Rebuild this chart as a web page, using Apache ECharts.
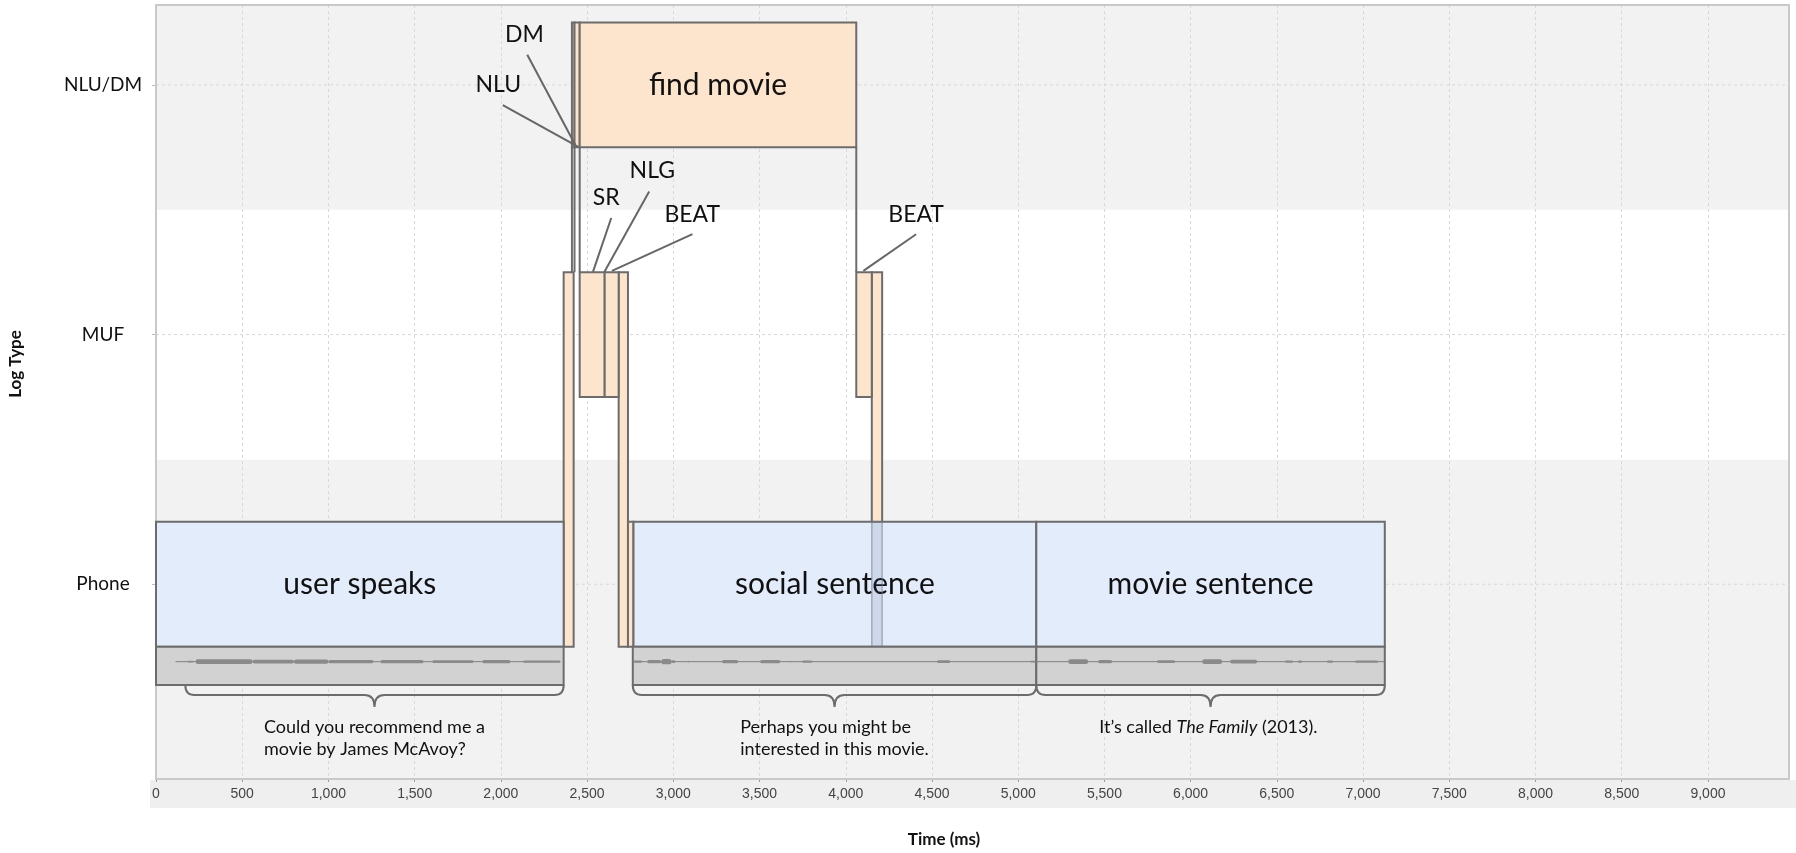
<!DOCTYPE html>
<html>
<head>
<meta charset="utf-8">
<title>Log timeline</title>
<script src="https://cdn.jsdelivr.net/npm/echarts@6.0.0/dist/echarts.min.js"></script>
<style>
  html, body { margin: 0; padding: 0; background: #fff; }
  #chart { width: 1796px; height: 853px; }
</style>
</head>
<body>
<div id="chart"></div>
<script>
// y rows, bottom to top
const rowNames = ['Phone', 'MUF', 'NLU/DM'];

// log events: [label, start ms, end ms, lowest row, highest row]
const logSpans = [
  ['', 2364, 2422, 0, 1],
  ['', 2683, 2737, 0, 1],
  ['', 2737, 2769, 0, 0],
  ['', 4151, 4211, 0, 1],
  ['SR', 2457, 2602, 1, 1],
  ['NLG', 2602, 2683, 1, 1],
  ['BEAT', 4061, 4151, 1, 1],
  ['NLU', 2412, 2427, 2, 2],
  ['DM', 2427, 2457, 2, 2],
  ['find movie', 2457, 4061, 2, 2]
];

// phone utterances: [label, start ms, end ms]
const phoneSpans = [
  ['user speaks', 0, 2364],
  ['social sentence', 2769, 5105],
  ['movie sentence', 5105, 7126]
];

// audio strips under the phone row: [start ms, end ms]
const audioSpans = [[0, 2364], [2765, 5105], [5105, 7126]];
const audioLines = [[113, 2345], [2765, 5105], [5105, 7126]];
// speech bursts in the waveform: [start ms, end ms, relative amplitude]
const audioBursts = [
  [182, 218, 0.3], [229, 560, 0.9], [560, 800, 0.7], [800, 1000, 0.8], [1000, 1261, 0.6],
  [1302, 1551, 0.6], [1603, 1841, 0.5], [1893, 2055, 0.6], [2130, 2345, 0.4],
  [2768, 2820, 0.4], [2849, 2930, 0.6], [2930, 2990, 1.0], [2990, 3012, 0.5], [3085, 3092, 0.3],
  [3283, 3376, 0.6], [3504, 3620, 0.6], [3676, 3682, 0.3], [3748, 3806, 0.4], [4530, 4606, 0.5],
  [5070, 5100, 0.3],
  [5290, 5406, 0.9], [5464, 5545, 0.6], [5806, 5910, 0.5], [6067, 6183, 0.9], [6229, 6386, 0.7],
  [6548, 6594, 0.4], [6623, 6646, 0.4], [6791, 6826, 0.4], [6954, 7087, 0.4]
];

// braces + transcripts
const braceSpans = [[170, 2364], [2765, 5105], [5105, 7126]];
const braceCaptions = [
  'Could you recommend me a\nmovie by James McAvoy?',
  'Perhaps you might be\ninterested in this movie.',
  'It\u2019s called {i|The Family} (2013).'
];

// vertical links between rows: [time ms, from row, to row]
const connectors = [[2412, 2, 1], [2427, 2, 1], [2457, 2, 1], [4061, 2, 1]];

// callouts: [label, label ms, label row, line start ms, line start row, line end ms, line end row]
const callouts = [
  ['DM', 2136, 2.201, 2153, 2.121, 2431, 1.760],
  ['NLU', 1985, 2.001, 2011, 1.919, 2449, 1.752],
  ['SR', 2611, 1.550, 2640, 1.467, 2534, 1.251],
  ['NLG', 2878, 1.656, 2860, 1.573, 2600, 1.251],
  ['BEAT', 3110, 1.482, 3111, 1.402, 2644, 1.255],
  ['BEAT', 4408, 1.482, 4408, 1.402, 4102, 1.255]
];

const X_MAX = 9470;
const Y_MIN = -0.78, Y_MAX = 2.32;
const BOX_HALF = 0.25;
const AUDIO_BOTTOM = -0.404;
const AUDIO_MID = -0.31;

const PEACH = '#fde5cd';
const BLUE = '#e3ecfa';
const EDGE = '#6c6c6c';
const FONT = 'Lato';

const measureCtx = document.createElement('canvas').getContext('2d');
function textWidth(str, font) {
  measureCtx.font = font;
  return measureCtx.measureText(str).width;
}

function spanRect(api, t0, t1, lo, hi) {
  const p0 = api.coord([t0, hi + BOX_HALF]);
  const p1 = api.coord([t1, lo - BOX_HALF]);
  return { x: p0[0], y: p0[1], width: p1[0] - p0[0], height: p1[1] - p0[1] };
}

// tall bars seen through the phone boxes
const overlaps = [];
logSpans.forEach(s => {
  if (s[3] !== 0 || s[4] === 0) return;
  phoneSpans.forEach(p => {
    const a = Math.max(s[1], p[1]), b = Math.min(s[2], p[2]);
    if (b > a) overlaps.push([a, b]);
  });
});

const chart = echarts.init(document.getElementById('chart'));

const option = {
  backgroundColor: '#ffffff',
  animation: false,
  grid: {
    left: 156, right: 7, top: 5, bottom: 74,
    show: true, borderColor: '#c9c9c9', borderWidth: 2, z: 1
  },
  xAxis: {
    type: 'value', min: 0, max: X_MAX, interval: 500,
    axisLine: { onZero: false, lineStyle: { color: '#9a9a9a', width: 2 } },
    axisTick: { length: 3, lineStyle: { color: '#9a9a9a' } },
    axisLabel: {
      formatter: v => v.toLocaleString('en-US'),
      showMaxLabel: false, margin: 8,
      fontSize: 14, fontFamily: 'Liberation Sans', color: '#444'
    },
    splitLine: { lineStyle: { type: [3, 3], color: '#d8d8d8' } }
  },
  yAxis: {
    type: 'value', min: Y_MIN, max: Y_MAX,
    axisLine: { show: false },
    axisTick: { show: true, customValues: rowNames.map((_, i) => i), length: 4, lineStyle: { color: '#bdbdbd' } },
    axisLabel: {
      customValues: rowNames.map((_, i) => i),
      formatter: v => rowNames[Math.round(v)] || '',
      margin: 53, align: 'center',
      fontSize: 19, fontFamily: FONT, color: '#111'
    },
    splitLine: { show: false }
  },
  graphic: [
    { type: 'rect', z: -5, shape: { x: 150, y: 780, width: 1646, height: 28 }, style: { fill: '#efefef' } },
    { type: 'text', x: 944, y: 840, style: { text: 'Time (ms)', align: 'center', verticalAlign: 'middle', fontSize: 17, fontWeight: 'bold', fontFamily: FONT, fill: '#111' } },
    { type: 'text', x: 16, y: 364, rotation: Math.PI / 2, style: { text: 'Log Type', align: 'center', verticalAlign: 'middle', fontSize: 17, fontWeight: 'bold', fontFamily: FONT, fill: '#111' } }
  ],
  series: [
    {
      // alternating row bands and dashed row lines
      type: 'custom', name: 'rows', z: -1, silent: true,
      data: rowNames.map((_, i) => [0, i]),
      renderItem: (params, api) => {
        const row = api.value(1);
        const cs = params.coordSys;
        const last = rowNames.length - 1;
        const top = api.coord([0, row === last ? Y_MAX : row + 0.5])[1];
        const bottom = api.coord([0, row === 0 ? Y_MIN : row - 0.5])[1];
        const mid = api.coord([0, row])[1];
        return {
          type: 'group', children: [
            { type: 'rect', shape: { x: cs.x, y: top, width: cs.width, height: bottom - top }, style: { fill: row % 2 === 0 ? '#f2f2f2' : '#ffffff' } },
            { type: 'line', z2: 5, shape: { x1: cs.x, y1: mid, x2: cs.x + cs.width, y2: mid }, style: { stroke: '#d8d8d8', lineWidth: 1, lineDash: [3, 3] } }
          ]
        };
      }
    },
    {
      type: 'custom', name: 'links', z: 2, silent: true,
      data: connectors.map(c => [c[0], c[1], c[2]]),
      renderItem: (params, api) => {
        const a = api.coord([api.value(0), api.value(1) - BOX_HALF]);
        const b = api.coord([api.value(0), api.value(2) + BOX_HALF]);
        return { type: 'line', shape: { x1: a[0], y1: a[1], x2: b[0], y2: b[1] }, style: { stroke: EDGE, lineWidth: 2 } };
      }
    },
    {
      type: 'custom', name: 'log events', z: 3, silent: true,
      data: logSpans.map(s => [s[1], s[2], s[3], s[4]]),
      renderItem: (params, api) => {
        const label = logSpans[params.dataIndex][0];
        const r = spanRect(api, api.value(0), api.value(1), api.value(2), api.value(3));
        const children = [{ type: 'rect', shape: r, style: { fill: PEACH, stroke: EDGE, lineWidth: 2 } }];
        if (r.width > 120) {
          children.push({ type: 'text', style: { text: label, x: r.x + r.width / 2, y: r.y + r.height / 2, align: 'center', verticalAlign: 'middle', fontSize: 30, fontFamily: FONT, fill: '#111' } });
        }
        return { type: 'group', children };
      }
    },
    {
      type: 'custom', name: 'phone', z: 4, silent: true,
      data: phoneSpans.map(p => [p[1], p[2]]),
      renderItem: (params, api) => {
        const label = phoneSpans[params.dataIndex][0];
        const r = spanRect(api, api.value(0), api.value(1), 0, 0);
        return {
          type: 'group', children: [
            { type: 'rect', shape: r, style: { fill: BLUE, stroke: EDGE, lineWidth: 2 } },
            { type: 'text', style: { text: label, x: r.x + r.width / 2, y: r.y + r.height / 2, align: 'center', verticalAlign: 'middle', fontSize: 30, fontFamily: FONT, fill: '#111' } }
          ]
        };
      }
    },
    {
      type: 'custom', name: 'overlap', z: 5, silent: true,
      data: overlaps,
      renderItem: (params, api) => {
        const r = spanRect(api, api.value(0), api.value(1), 0, 0);
        return { type: 'rect', shape: r, style: { fill: 'rgba(60,75,130,0.12)', stroke: 'rgba(110,115,130,0.5)', lineWidth: 1.5 } };
      }
    },
    {
      type: 'custom', name: 'audio', z: 5, silent: true,
      data: audioSpans,
      renderItem: (params, api) => {
        const a = api.coord([api.value(0), -BOX_HALF]);
        const b = api.coord([api.value(1), AUDIO_BOTTOM]);
        return { type: 'rect', shape: { x: a[0], y: a[1], width: b[0] - a[0], height: b[1] - a[1] }, style: { fill: '#d2d2d2', stroke: EDGE, lineWidth: 2 } };
      }
    },
    {
      type: 'custom', name: 'audio line', z: 6, silent: true,
      data: audioLines,
      renderItem: (params, api) => {
        const a = api.coord([api.value(0), AUDIO_MID]);
        const b = api.coord([api.value(1), AUDIO_MID]);
        return { type: 'line', shape: { x1: a[0], y1: a[1], x2: b[0], y2: b[1] }, style: { stroke: '#808080', lineWidth: 1 } };
      }
    },
    {
      type: 'custom', name: 'audio bursts', z: 7, silent: true,
      data: audioBursts,
      renderItem: (params, api) => {
        const a = api.coord([api.value(0), AUDIO_MID]);
        const b = api.coord([api.value(1), AUDIO_MID]);
        const h = Math.max(0.8, api.value(2) * 2.6);
        return { type: 'rect', shape: { x: a[0], y: a[1] - h, width: Math.max(1, b[0] - a[0]), height: 2 * h, r: h }, style: { fill: '#8a8a8a' } };
      }
    },
    {
      type: 'custom', name: 'braces', z: 6, silent: true,
      data: braceSpans,
      renderItem: (params, api) => {
        const a = api.coord([api.value(0), AUDIO_BOTTOM]);
        const b = api.coord([api.value(1), AUDIO_BOTTOM]);
        const x0 = a[0], x1 = b[0], y0 = a[1];
        const xc = (x0 + x1) / 2, ym = y0 + 10, yt = ym + 12, r = 9, rt = 10;
        const path = 'M' + x0 + ',' + y0 + ' Q' + x0 + ',' + ym + ' ' + (x0 + r) + ',' + ym +
          ' L' + (xc - rt) + ',' + ym + ' Q' + xc + ',' + ym + ' ' + xc + ',' + yt +
          ' Q' + xc + ',' + ym + ' ' + (xc + rt) + ',' + ym +
          ' L' + (x1 - r) + ',' + ym + ' Q' + x1 + ',' + ym + ' ' + x1 + ',' + y0;
        const caption = braceCaptions[params.dataIndex];
        const plain = caption.replace(/\{i\|([^}]*)\}/g, '$1').split('\n');
        const w = Math.max.apply(null, plain.map(l => textWidth(l, '18px ' + FONT)));
        return {
          type: 'group', children: [
            { type: 'path', shape: { pathData: path }, style: { fill: 'none', stroke: EDGE, lineWidth: 2 } },
            {
              type: 'text', style: {
                text: caption, x: xc - w / 2, y: yt + 9, align: 'left', verticalAlign: 'top',
                fontSize: 18, fontFamily: FONT, lineHeight: 22, fill: '#111',
                rich: { i: { fontStyle: 'italic', fontSize: 18, fontFamily: FONT, lineHeight: 22, fill: '#111' } }
              }
            }
          ]
        };
      }
    },
    {
      type: 'custom', name: 'callouts', z: 8, silent: true,
      data: callouts.map(c => [c[1], c[2], c[3], c[4], c[5], c[6]]),
      renderItem: (params, api) => {
        const t = api.coord([api.value(0), api.value(1)]);
        const a = api.coord([api.value(2), api.value(3)]);
        const b = api.coord([api.value(4), api.value(5)]);
        return {
          type: 'group', children: [
            { type: 'line', shape: { x1: a[0], y1: a[1], x2: b[0], y2: b[1] }, style: { stroke: '#666', lineWidth: 2 } },
            { type: 'text', style: { text: callouts[params.dataIndex][0], x: t[0], y: t[1], align: 'center', verticalAlign: 'middle', fontSize: 23, fontFamily: FONT, fill: '#111' } }
          ]
        };
      }
    }
  ]
};

chart.setOption(option);
</script>
</body>
</html>
